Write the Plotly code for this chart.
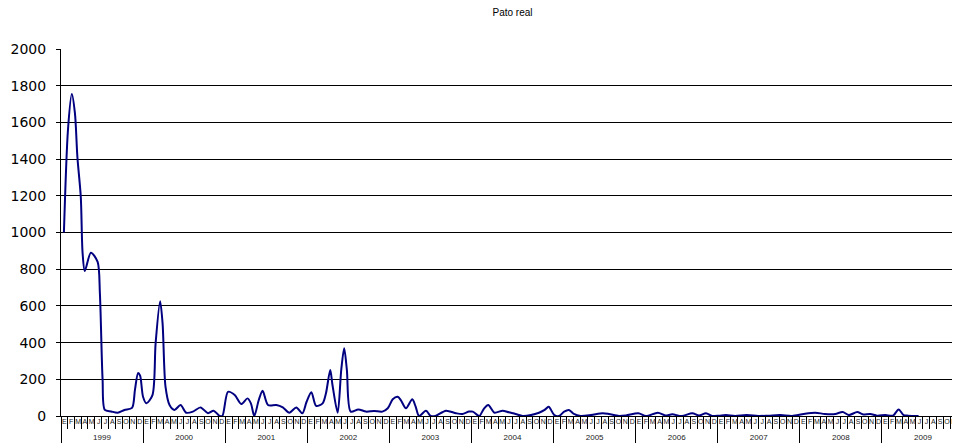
import plotly.graph_objects as go

# ---- data ----
dates = [
    "1999-01-14", "1999-02-01", "1999-02-18", "1999-03-04", "1999-03-15", "1999-03-30",
    "1999-04-07", "1999-04-17", "1999-05-14", "1999-06-13", "1999-06-23", "1999-07-05",
    "1999-07-15", "1999-08-12", "1999-09-10", "1999-10-10", "1999-11-13", "1999-11-26",
    "1999-12-10", "1999-12-19",
    "2000-01-01", "2000-01-16", "2000-02-12", "2000-02-26", "2000-03-17", "2000-03-28",
    "2000-04-10", "2000-04-28", "2000-05-20", "2000-06-16", "2000-07-11", "2000-08-10",
    "2000-09-13", "2000-10-16", "2000-11-10", "2000-12-07", "2000-12-19",
    "2001-01-13", "2001-02-12", "2001-03-13", "2001-04-10", "2001-04-25", "2001-05-10",
    "2001-05-30", "2001-06-16", "2001-07-10", "2001-08-16", "2001-09-14", "2001-10-13",
    "2001-11-13", "2001-12-10", "2001-12-28",
    "2002-01-19", "2002-02-09", "2002-03-10", "2002-03-25", "2002-04-13", "2002-04-23",
    "2002-05-16", "2002-06-01", "2002-06-14", "2002-06-26", "2002-07-13", "2002-08-16",
    "2002-09-19", "2002-10-25", "2002-12-01", "2002-12-25",
    "2003-01-16", "2003-02-07", "2003-02-21", "2003-03-16", "2003-04-13", "2003-04-28",
    "2003-05-13", "2003-06-13", "2003-07-04", "2003-07-25", "2003-09-10", "2003-10-25",
    "2003-11-22", "2003-12-22",
    "2004-01-07", "2004-01-28", "2004-02-06", "2004-02-27", "2004-03-16", "2004-04-13",
    "2004-05-19", "2004-06-16", "2004-07-16", "2004-08-16", "2004-09-22", "2004-10-28",
    "2004-11-22", "2004-12-10",
    "2005-01-04", "2005-01-25", "2005-02-17", "2005-03-10", "2005-04-01", "2005-05-01",
    "2005-06-16", "2005-08-07", "2005-09-04", "2005-10-19", "2005-11-19",
    "2006-01-13", "2006-02-16", "2006-04-10", "2006-05-13", "2006-06-13", "2006-07-25",
    "2006-09-10", "2006-10-10", "2006-11-10", "2006-12-07",
    "2007-01-07", "2007-02-07", "2007-03-19", "2007-05-10", "2007-07-01", "2007-08-16",
    "2007-10-07", "2007-11-28",
    "2008-01-19", "2008-03-10", "2008-04-22", "2008-06-07", "2008-07-10", "2008-08-07",
    "2008-09-13", "2008-10-07", "2008-11-10", "2008-12-10",
    "2009-01-16", "2009-02-19", "2009-03-16", "2009-04-07", "2009-04-28", "2009-06-13",
]
counts = [
    1000, 1560, 1755, 1650, 1410, 1195,
    890, 790, 890, 840, 670, 200,
    33, 25, 18, 33, 44, 142,
    234, 220,
    105, 69, 114, 396, 625, 505,
    160, 60, 33, 60, 18, 24,
    47, 15, 29, 0, 0,
    132, 114, 65, 96, 69, 0,
    87, 138, 60, 60, 47, 18,
    47, 15, 75,
    130, 55, 69, 124, 251, 169,
    18, 251, 369, 251, 24, 36,
    24, 27, 24, 42,
    91, 105, 87, 42, 91, 51,
    0, 29, 0, 0, 29, 15,
    11, 24,
    24, 5, 0, 42, 60, 18,
    29, 20, 11, 0, 5, 18,
    33, 51,
    5, 0, 24, 33, 11, 0,
    5, 15, 11, 0, 3,
    15, 0, 18, 3, 9, 0,
    15, 3, 15, 0,
    2, 5, 0, 5, 0, 2,
    5, 0,
    11, 18, 11, 11, 22, 5,
    22, 9, 11, 2,
    5, 2, 36, 5, 2, 0,
]
years = [str(y) for y in range(1999, 2010)]
month_letters = ["E", "F", "M", "A", "M", "J", "J", "A", "S", "O", "N", "D"]
y_ticks = list(range(0, 2001, 200))

# month label positions on a month-index axis (one label per month cell)
n_months = 12 * len(years)
month_tickvals = [i + 0.5 for i in range(n_months)]
month_ticktext = month_letters * len(years)

font_family = "Arial, Liberation Sans, sans-serif"

fig = go.Figure()
# invisible helper trace for the month-label axis
fig.add_trace(go.Scatter(
    x=[0, n_months], y=[0, 0], xaxis="x2", yaxis="y", mode="markers",
    marker=dict(opacity=0), showlegend=False, hoverinfo="skip",
))
fig.add_trace(go.Scatter(
    x=dates, y=counts, mode="lines",
    line=dict(color="#000080", width=2, shape="spline", smoothing=0.8),
    showlegend=False, xaxis="x", yaxis="y",
))

fig.update_layout(
    width=960, height=443,
    margin=dict(l=53, r=4, t=41, b=35, autoexpand=False),
    plot_bgcolor="white", paper_bgcolor="white",
    font=dict(family=font_family, color="black"),
    title=dict(text="Pato real", x=0.5, xref="paper", xanchor="center",
               y=1 - 4 / 443, yref="container", yanchor="middle",
               automargin=False,
               font=dict(size=10, family=font_family, color="black")),
    # date axis: year labels (centred in each year), year dividers, month ticks
    xaxis=dict(type="date", range=["1999-01-01", "2010-01-01"],
               tickmode="linear", tick0="1999-01-01", dtick="M12",
               ticklabelmode="period", tickformat="%Y",
               ticks="outside", ticklen=30, tickcolor="black", tickwidth=1,
               ticklabelstandoff=-17,
               tickfont=dict(size=8, family=font_family, color="#222222"),
               minor=dict(dtick="M1", tick0="1999-01-01", ticks="outside",
                          ticklen=12, tickcolor="black", tickwidth=1,
                          showgrid=False),
               showgrid=False, showline=True, linecolor="black", linewidth=1,
               zeroline=False, automargin=False),
    # month letters
    xaxis2=dict(type="linear", overlaying="x", anchor="y", side="bottom",
                range=[0, n_months], tickmode="array",
                tickvals=month_tickvals, ticktext=month_ticktext,
                ticks="", tickangle=0, showgrid=False, showline=False,
                zeroline=False,
                tickfont=dict(size=7, family=font_family, color="#222222"),
                automargin=False),
    yaxis=dict(range=[0, 2000], tickvals=y_ticks, showgrid=True,
               gridcolor="black", gridwidth=1, showline=True, linecolor="black",
               linewidth=1, ticks="outside", ticklen=4, tickcolor="black",
               ticklabelstandoff=7, zeroline=False, automargin=False,
               tickfont=dict(size=14, family="DejaVu Sans, sans-serif",
                             color="black")),
)

fig.write_html("out.html")
